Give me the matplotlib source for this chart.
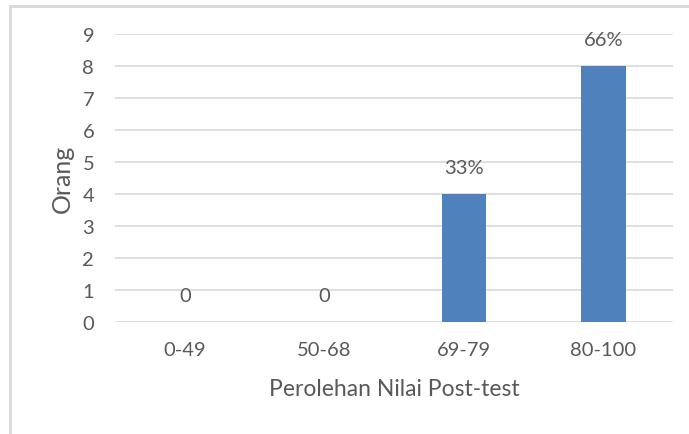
import matplotlib

matplotlib.use("Agg")
import matplotlib.pyplot as plt
from matplotlib.lines import Line2D

CATEGORIES = ["0-49", "50-68", "69-79", "80-100"]
COUNTS = [0, 0, 4, 8]
LABELS = ["0", "0", "33%", "66%"]

TEXT = "#595959"
GRID = "#D9D9D9"
BAR = "#4F81BD"

plt.rcParams["font.family"] = ["Lato", "DejaVu Sans"]

fig = plt.figure(figsize=(6.89, 4.35), dpi=100)
ax = fig.add_axes((0.167, 0.2575, 0.81, 0.662))

x = range(len(CATEGORIES))
ax.bar(x, COUNTS, width=0.32, color=BAR, zorder=3)
for xi, v, lab in zip(x, COUNTS, LABELS):
    ax.text(xi, v + 0.55, lab, ha="center", va="bottom", fontsize=14.5, color=TEXT)

ax.set_xlim(-0.5, len(CATEGORIES) - 0.5)
ax.set_ylim(0, 9)
ax.set_yticks(range(10))
ax.set_xticks(list(x))
ax.set_xticklabels(CATEGORIES)
ax.tick_params(length=0, labelsize=14.5, colors=TEXT)
ax.tick_params(axis="y", pad=15)
ax.tick_params(axis="x", pad=14)
ax.grid(axis="y", color=GRID, linewidth=1.2, zorder=0)
for s in ax.spines.values():
    s.set_visible(False)

ax.set_ylabel("Orang", fontsize=18, color=TEXT, labelpad=6)
ax.set_xlabel("Perolehan Nilai Post-test", fontsize=16.5, color=TEXT, labelpad=14)

# outer chart border (left and top edges visible)
fig.add_artist(Line2D([10 / 689, 10 / 689], [0, 1 - 7 / 435], color=GRID, linewidth=2, transform=fig.transFigure))
fig.add_artist(Line2D([10 / 689, 1], [1 - 7 / 435, 1 - 7 / 435], color=GRID, linewidth=2, transform=fig.transFigure))

fig.savefig("out.png", dpi=100)
